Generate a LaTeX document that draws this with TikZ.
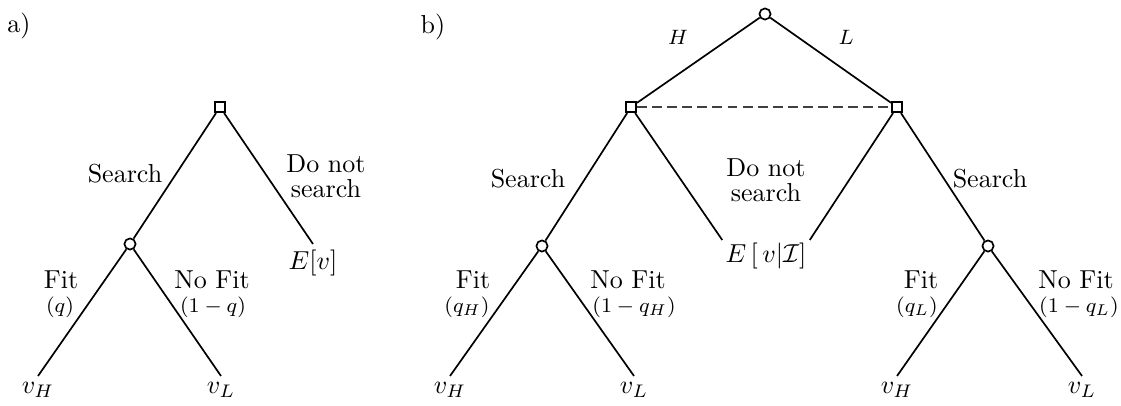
\documentclass[tikz,border=0pt]{standalone}
\begin{document}
\begin{tikzpicture}[x=0.3846pt,y=-0.3846pt,line width=0.65pt,
  chance/.style={circle,draw,fill=white,minimum size=4.3pt,inner sep=0pt},
  decision/.style={rectangle,draw,fill=white,minimum size=4pt,inner sep=0pt},
  leaf/.style={anchor=north,inner sep=2pt},
  lbl/.style={inner sep=0pt},
  prob/.style={inner sep=0pt,font=\footnotesize},
  branch/.style={draw},
  info/.style={draw=black!75,dash pattern=on 3.8pt off 2pt}]
\useasboundingbox (0,0) rectangle (1121,405);

% ---------- a) ----------
\node[lbl] (ta) at (19,26) {a)};
\node[decision] (aR) at (220,107) {};
\node[chance] (aC) at (130,244) {};
\node[leaf] (aE) at (313,244) {$E[v]$};
\node[leaf] (avH) at (38,376) {$v_H$};
\node[leaf] (avL) at (221,376) {$v_L$};
\path[branch] (aR) -- (aC);
\path[branch] (aR) -- (aE.north);
\path[branch] (aC) -- (avH.north);
\path[branch] (aC) -- (avL.north);
\node[lbl] (aS) at (125,174) {Search};
\node[lbl,align=center] (aD) at (326,176) {Do not\\[-2.4pt]search};
\node[lbl] (aF) at (61,280) {Fit};
\node[prob] (aq) at (60,307) {$(q)$};
\node[lbl] (aN) at (212,280) {No Fit};
\node[prob] (anq) at (213,307) {$(1-q)$};

% ---------- b) ----------
\node[lbl] (tb) at (433,27) {b)};
\node[chance] (bT) at (765,14) {};
\node[decision] (bL) at (631,107) {};
\node[decision] (bR) at (897,107) {};
\node[chance] (bCL) at (542,246) {};
\node[chance] (bCR) at (988,246) {};
\node[anchor=north,inner sep=1pt] (bE) at (766,240) {$E\left[\,v\middle|\mathcal{I}\right]$};
\node[leaf] (bvH1) at (450,376) {$v_H$};
\node[leaf] (bvL1) at (634,376) {$v_L$};
\node[leaf] (bvH2) at (897,376) {$v_H$};
\node[leaf] (bvL2) at (1082,376) {$v_L$};
\path[branch] (bT) -- (bL);
\path[branch] (bT) -- (bR);
\path[info] (bL) -- (bR);
\path[branch] (bL) -- (bCL);
\path[branch] (bL) -- (bE.north west);
\path[branch] (bR) -- (bE.north east);
\path[branch] (bR) -- (bCR);
\path[branch] (bCL) -- (bvH1.north);
\path[branch] (bCL) -- (bvL1.north);
\path[branch] (bCR) -- (bvH2.north);
\path[branch] (bCR) -- (bvL2.north);
\node[prob] (bH) at (678,37) {$H$};
\node[prob] (bLl) at (846,37) {$L$};
\node[lbl] (bS1) at (528,179) {Search};
\node[lbl,align=center] (bD) at (766,180) {Do not\\[-2.4pt]search};
\node[lbl] (bS2) at (990,179) {Search};
\node[lbl] (bF1) at (473,280) {Fit};
\node[prob] (bq1) at (467,307) {$(q_H)$};
\node[lbl] (bN1) at (628,280) {No Fit};
\node[prob] (bnq1) at (634,307) {$(1-q_H)$};
\node[lbl] (bF2) at (921,280) {Fit};
\node[prob] (bq2) at (917,307) {$(q_L)$};
\node[lbl] (bN2) at (1076,280) {No Fit};
\node[prob] (bnq2) at (1079,307) {$(1-q_L)$};
\end{tikzpicture}
\end{document}
